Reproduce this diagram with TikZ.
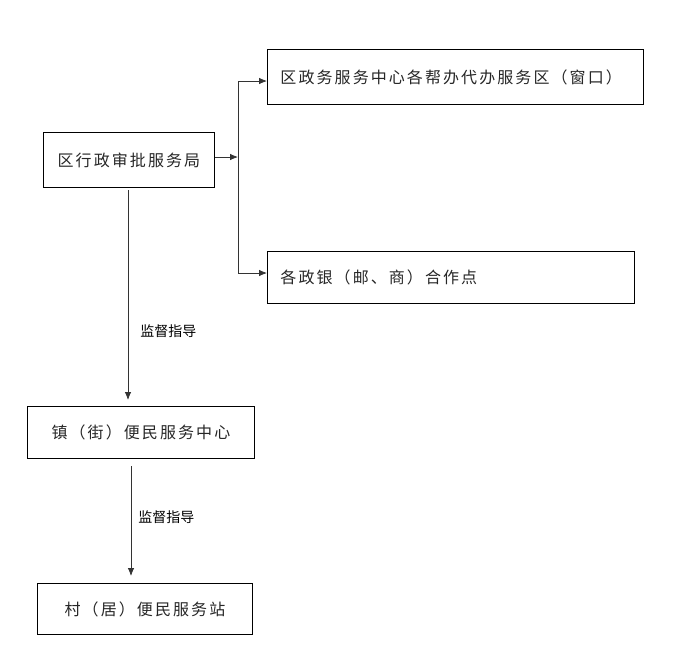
\documentclass[tikz,border=0pt]{standalone}
\usepackage{fontspec}
\setmainfont{Noto Sans CJK SC}
\newfontfamily\boxfont[LetterSpace=13]{Noto Sans CJK SC}
\newfontfamily\labfont{Noto Sans CJK SC}
\usetikzlibrary{arrows.meta}
\begin{document}
\begin{tikzpicture}[x=1pt,y=-1pt,
  box/.style={draw=black, line width=0.9pt, rectangle, inner ysep=0pt,
    font=\boxfont\fontsize{16}{19}\selectfont, text=black!85},
  lbox/.style={box, align=left, inner xsep=13pt, anchor=north west},
  cbox/.style={box, align=center, inner xsep=0pt, anchor=north west},
  arr/.style={line width=0.8pt, draw=black!80, -{Latex[length=8pt,width=6.5pt]}},
  conn/.style={line width=0.8pt, draw=black!80},
  lab/.style={font=\labfont\fontsize{14}{17}\selectfont, inner sep=0pt, anchor=west}]
\useasboundingbox (0,0) rectangle (679,654);
\node[cbox, minimum width=171pt, minimum height=55pt] (b1) at (43,132) {区行政审批服务局};
\node[lbox, text width=350pt, minimum height=55pt] (b2) at (267,49) {区政务服务中心各帮办代办服务区（窗口）};
\node[lbox, text width=341pt, minimum height=52pt] (b3) at (267,251) {各政银（邮、商）合作点};
\node[cbox, minimum width=227pt, minimum height=52pt] (b4) at (27,406) {镇（街）便民服务中心};
\node[cbox, minimum width=215pt, minimum height=51pt] (b5) at (37,583) {村（居）便民服务站};
\coordinate (j) at (238,157);
\coordinate (jt) at (238,81);
\coordinate (jb) at (238,273);
\draw[arr] (j -| b1.east) -- (j);
\draw[conn] (jt) -- (jb);
\draw[arr] (jt) -- (jt -| b2.west);
\draw[arr] (jb) -- (jb -| b3.west);
\coordinate (s1) at (128,190);
\coordinate (s2) at (131,466);
\draw[arr, shorten >=6pt] (s1) -- (s1 |- b4.north) node[lab, pos=0.652, xshift=12pt] {监督指导};
\draw[arr, shorten >=7pt] (s2) -- (s2 |- b5.north) node[lab, pos=0.44, xshift=7pt] {监督指导};
\end{tikzpicture}
\end{document}
